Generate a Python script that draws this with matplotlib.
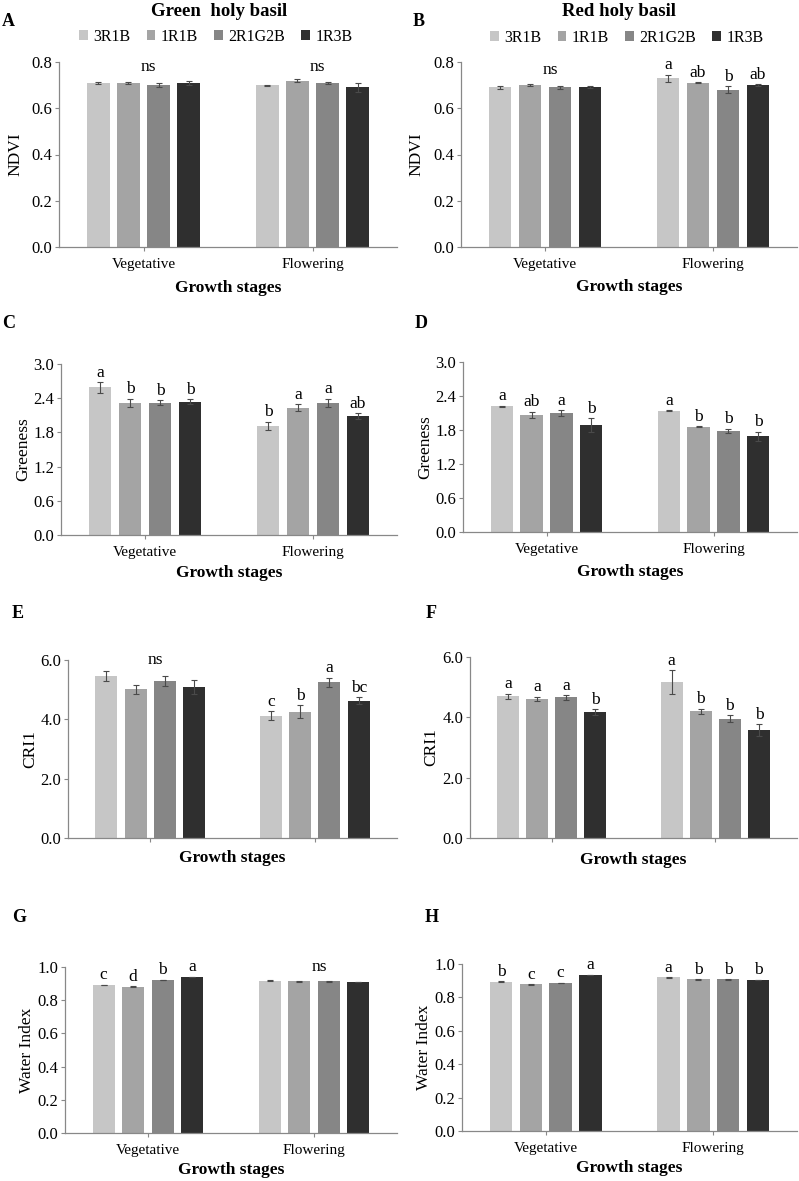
import numpy as np
import matplotlib
matplotlib.use('Agg')
import matplotlib.pyplot as plt

plt.rcParams['font.family'] = ['Liberation Serif', 'DejaVu Serif']

treatments = ['3R1B', '1R1B', '2R1G2B', '1R3B']
stages = ['Vegetative', 'Flowering']
colors = ['#c6c6c6', '#a4a4a4', '#868686', '#2f2f2f']

# values: [vegetative, flowering], each 4 treatments
green_ndvi = [[0.71, 0.71, 0.70, 0.71], [0.70, 0.72, 0.71, 0.69]]
green_ndvi_err = [[0.005, 0.005, 0.01, 0.008], [0.002, 0.007, 0.003, 0.02]]
green_ndvi_let = ['ns', 'ns']

red_ndvi = [[0.69, 0.70, 0.69, 0.692], [0.73, 0.71, 0.68, 0.70]]
red_ndvi_err = [[0.006, 0.005, 0.006, 0.003], [0.015, 0.002, 0.015, 0.003]]
red_ndvi_let = ['ns', ['a', 'ab', 'b', 'ab']]

green_gr = [[2.59, 2.32, 2.32, 2.34], [1.92, 2.23, 2.32, 2.09]]
green_gr_err = [[0.09, 0.07, 0.04, 0.04], [0.07, 0.06, 0.07, 0.05]]
green_gr_let = [['a', 'b', 'b', 'b'], ['b', 'a', 'a', 'ab']]

red_gr = [[2.22, 2.07, 2.10, 1.89], [2.14, 1.86, 1.78, 1.69]]
red_gr_err = [[0.01, 0.05, 0.05, 0.12], [0.01, 0.01, 0.04, 0.08]]
red_gr_let = [['a', 'ab', 'a', 'b'], ['a', 'b', 'b', 'b']]

green_cri = [[5.47, 5.01, 5.29, 5.10], [4.12, 4.25, 5.25, 4.63]]
green_cri_err = [[0.17, 0.15, 0.17, 0.23], [0.15, 0.22, 0.15, 0.12]]
green_cri_let = ['ns', ['c', 'b', 'a', 'bc']]

red_cri = [[4.70, 4.61, 4.66, 4.17], [5.17, 4.20, 3.96, 3.57]]
red_cri_err = [[0.08, 0.08, 0.08, 0.10], [0.40, 0.08, 0.12, 0.20]]
red_cri_let = [['a', 'a', 'a', 'b'], ['a', 'b', 'b', 'b']]

green_wi = [[0.892, 0.882, 0.922, 0.940], [0.918, 0.914, 0.914, 0.910]]
green_wi_err = [[0.002, 0.002, 0.002, 0.002], [0.001, 0.002, 0.002, 0.002]]
green_wi_let = [['c', 'd', 'b', 'a'], 'ns']

red_wi = [[0.894, 0.878, 0.886, 0.934], [0.920, 0.908, 0.908, 0.904]]
red_wi_err = [[0.002, 0.002, 0.002, 0.002], [0.002, 0.002, 0.002, 0.002]]
red_wi_let = [['b', 'c', 'c', 'a'], ['a', 'b', 'b', 'b']]

W, H = 799, 1181
fig = plt.figure(figsize=(W / 100, H / 100), dpi=100)

def fx(x):
    return x / W

def fy(y):
    return 1 - y / H

# panel: (data, err, letters, ylabel, ymax, ystep, rect px, letter, letter pos, ylabel x, xlabel y, ticklabels, ns y)
panels = [
    (green_ndvi, green_ndvi_err, green_ndvi_let, 'NDVI', 0.8, 0.2, (59, 62, 397, 247), 'A', (8, 22), 15, 288, True, 0.778),
    (red_ndvi, red_ndvi_err, red_ndvi_let, 'NDVI', 0.8, 0.2, (461, 62, 797, 247), 'B', (419, 22), 416, 287, True, 0.765),
    (green_gr, green_gr_err, green_gr_let, 'Greeness', 3.0, 0.6, (61, 364, 397, 535), 'C', (9, 323), 23, 573, True, None),
    (red_gr, red_gr_err, red_gr_let, 'Greeness', 3.0, 0.6, (463, 362, 797, 532), 'D', (421, 323), 425, 572, True, None),
    (green_cri, green_cri_err, green_cri_let, 'CRI1', 6.0, 2.0, (68, 660, 397, 838), 'E', (18, 613), 30, 858, False, 6.0),
    (red_cri, red_cri_err, red_cri_let, 'CRI1', 6.0, 2.0, (470, 657, 797, 838), 'F', (431, 613), 431, 860, False, None),
    (green_wi, green_wi_err, green_wi_let, 'Water Index', 1.0, 0.2, (65, 967, 397, 1133), 'G', (19, 918), 27, 1170, True, 1.0),
    (red_wi, red_wi_err, red_wi_let, 'Water Index', 1.0, 0.2, (462, 964, 797, 1131), 'H', (432, 917), 424, 1168, True, None),
]

pitch = 0.178
bw = 0.134
x = np.arange(len(stages))
handles = None

for data, err, lets, ylab, ymax, ystep, rect, plabel, ppos, ylx, xly, showticks, nsy in panels:
    l, t, r, b = rect
    ax = fig.add_axes([fx(l), fy(b), (r - l) / W, (b - t) / H])
    vals = np.array(data)
    errs = np.array(err)
    bars = []
    for i in range(len(treatments)):
        pos = x + (i - 1.5) * pitch
        bc = ax.bar(pos, vals[:, i], bw, color=colors[i], label=treatments[i],
                    yerr=errs[:, i], error_kw=dict(ecolor='#4a4a4a', elinewidth=0.8, capsize=2, capthick=0.8))
        bars.append(bc)
    if handles is None:
        handles = bars
    for g in range(len(stages)):
        if lets[g] == 'ns':
            ax.text(x[g] + 0.03, nsy, 'ns', ha='center', va='center', fontsize=12.5)
        else:
            for i in range(len(treatments)):
                pos = x[g] + (i - 1.5) * pitch
                ax.annotate(lets[g][i], (pos, vals[g, i] + errs[g, i]), xytext=(0, 1),
                            textcoords='offset points', ha='center', va='bottom', fontsize=12.5)
    ax.set_xlim(-0.5, 1.5)
    ax.set_ylim(0, ymax)
    ax.set_yticks(np.arange(0, ymax + ystep / 2, ystep))
    ax.yaxis.set_major_formatter(matplotlib.ticker.FormatStrFormatter('%.1f'))
    ax.set_xticks(x)
    if showticks:
        ax.set_xticklabels(stages, fontsize=11)
    else:
        ax.set_xticklabels(['', ''])
    ax.tick_params(axis='y', labelsize=12, length=3, color='#888888', pad=2)
    ax.tick_params(axis='x', length=3, color='#888888', pad=5)
    for s in ['top', 'right']:
        ax.spines[s].set_visible(False)
    for s in ['left', 'bottom']:
        ax.spines[s].set_color('#888888')
        ax.spines[s].set_linewidth(0.9)
    ax.set_ylabel(ylab, fontsize=12.5)
    ax.yaxis.label.set_va('center')
    ax.yaxis.set_label_coords((ylx - l) / (r - l), 0.5)
    ax.set_xlabel('Growth stages', fontsize=12.5, fontweight='bold')
    ax.xaxis.label.set_va('center')
    ax.xaxis.set_label_coords(0.5, (b - xly) / (b - t))
    fig.text(fx(ppos[0]), fy(ppos[1]), plabel, fontsize=13, fontweight='bold', ha='center', va='center')

fig.text(fx(219), fy(11), 'Green  holy basil', fontsize=13.5, fontweight='bold', ha='center', va='center')
fig.text(fx(619), fy(11), 'Red holy basil', fontsize=13.5, fontweight='bold', ha='center', va='center')

for cx, cy in [(216, 37), (627, 38)]:
    fig.legend(handles, treatments, loc='center', bbox_to_anchor=(fx(cx), fy(cy)), ncol=4,
               frameon=False, fontsize=11.5, handlelength=0.55, handleheight=0.6,
               handletextpad=0.35, columnspacing=1.0)

fig.savefig('out.png', dpi=100)
